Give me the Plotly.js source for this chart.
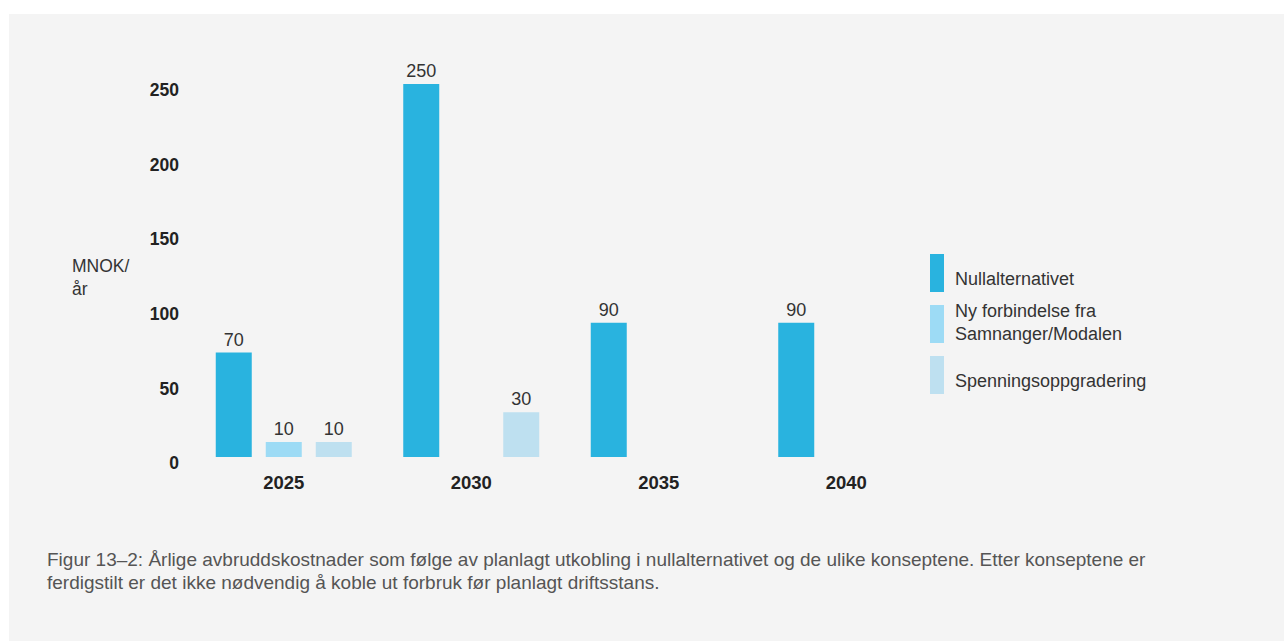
<!DOCTYPE html>
<html>
<head>
<meta charset="utf-8">
<script src="https://cdn.plot.ly/plotly-3.0.1.min.js"></script>
<style>
  html, body { margin: 0; padding: 0; background: #ffffff; width: 1284px; height: 641px; overflow: hidden; }
  #chart { position: absolute; left: 9px; top: 14px; width: 1275px; height: 627px; }
</style>
</head>
<body>
<div id="chart"></div>
<script>
// ---- data ----
const categories = ['2025', '2030', '2035', '2040'];
const seriesNames = ['Nullalternativet', 'Ny forbindelse fra<br>Samnanger/Modalen', 'Spenningsoppgradering'];
const nullalternativet = [70, 250, 90, 90];
const nyForbindelse = [10, 0, 0, 0];
const spenningsoppgradering = [10, 30, 0, 0];
const yTickValues = [0, 50, 100, 150, 200, 250];
const yAxisLabel = 'MNOK/<br>år';
const captionLine1 = 'Figur 13–2: Årlige avbruddskostnader som følge av planlagt utkobling i nullalternativet og de ulike konseptene. Etter konseptene er';
const captionLine2 = 'ferdigstilt er det ikke nødvendig å koble ut forbruk før planlagt driftsstans.';

const colors = ['#29b3df', '#9ddbf5', '#bee0f0'];
const seriesValues = [nullalternativet, nyForbindelse, spenningsoppgradering];
const FONT = '"Liberation Sans", Arial, Helvetica, sans-serif';

const traces = seriesValues.map((vals, i) => ({
  type: 'bar',
  name: seriesNames[i],
  x: categories,
  y: vals,
  text: vals.map(v => v > 0 ? String(v) : ''),
  textposition: 'outside',
  textfont: { family: FONT, size: 18, color: '#333333' },
  cliponaxis: false,
  marker: { color: colors[i] },
  hoverinfo: 'x+y+name',
  showlegend: false
}));

const shapes = [];
const annotations = [];
const legendOffsets = [[165, 203], [114, 152], [63, 101]];
const legendTextY = [0.4588, 0.3454, 0.1959];
seriesNames.forEach((n, i) => {
  shapes.push({
    type: 'rect', xref: 'paper', yref: 'paper',
    xsizemode: 'pixel', ysizemode: 'pixel',
    xanchor: 1, yanchor: 0,
    x0: -10, x1: 4, y0: legendOffsets[i][0], y1: legendOffsets[i][1],
    fillcolor: colors[i], line: { width: 0 }
  });
  annotations.push({
    xref: 'paper', yref: 'paper', x: 1.0173, y: legendTextY[i],
    xanchor: 'left', yanchor: 'middle', align: 'left', showarrow: false,
    text: n, font: { family: FONT, size: 18, color: '#333333' }
  });
});
annotations.push({
  xref: 'paper', yref: 'paper', x: -0.16, y: 0.4639,
  xanchor: 'left', yanchor: 'middle', align: 'left', showarrow: false,
  text: yAxisLabel, font: { family: FONT, size: 17.5, color: '#333333' }
});
annotations.push({
  xref: 'paper', yref: 'paper', x: -0.1933, y: (443 - 545) / 388,
  xanchor: 'left', yanchor: 'middle', align: 'left', showarrow: false,
  text: captionLine1, font: { family: FONT, size: 19, color: '#555555' }
});
annotations.push({
  xref: 'paper', yref: 'paper', x: -0.1933, y: (443 - 568) / 388,
  xanchor: 'left', yanchor: 'middle', align: 'left', showarrow: false,
  text: captionLine2, font: { family: FONT, size: 19, color: '#555555' }
});

const layout = {
  width: 1275, height: 627,
  margin: { l: 181, r: 344, t: 55, b: 184, pad: 0 },
  paper_bgcolor: '#f4f4f4',
  plot_bgcolor: '#f4f4f4',
  barmode: 'group',
  bargap: 0.2,
  bargroupgap: 0.28,
  showlegend: false,
  font: { family: FONT, color: '#222222' },
  xaxis: {
    type: 'category',
    range: [-0.5, 3.5],
    showgrid: false, zeroline: false, showline: false,
    ticks: '',
    ticklabelstandoff: 12,
    tickfont: { family: FONT, size: 18.5, color: '#222222', weight: 'bold' }
  },
  yaxis: {
    range: [0, 260],
    tickvals: yTickValues,
    showgrid: false, zeroline: false, showline: false,
    ticks: '',
    ticklabelshift: 6,
    ticklabelstandoff: 10,
    tickfont: { family: FONT, size: 17.5, color: '#222222', weight: 'bold' }
  },
  shapes: shapes,
  annotations: annotations
};

Plotly.newPlot('chart', traces, layout, { displayModeBar: false, staticPlot: true });
</script>
</body>
</html>
